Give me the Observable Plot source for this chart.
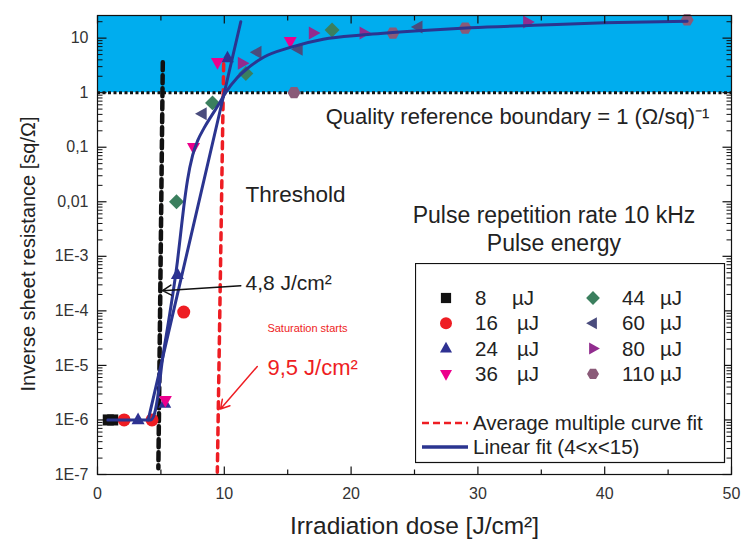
<!DOCTYPE html>
<html><head><meta charset="utf-8">
<script src="https://cdn.jsdelivr.net/npm/d3@7"></script>
<script src="https://cdn.jsdelivr.net/npm/@observablehq/plot@0.6"></script>
<style>
body{margin:0;background:#fff;}
#wrap{position:relative;width:742px;height:543px;font-family:"Liberation Sans",Arial,Helvetica,sans-serif;}
#legend{position:absolute;left:415px;top:263px;}
</style></head><body><div id="wrap"></div>
<script>
// ---------- data ----------
const xDomain = [0, 50];
const yDomain = [1e-7, 26];
const boundary = 1;

const e8x = [0.85, 1.2],               e8y = [1e-6, 1e-6];
const e16x = [2.1, 4.3, 6.8],           e16y = [1e-6, 1e-6, 9.5e-5];
const e24x = [3.2, 5.3, 6.3, 10.25],    e24y = [1e-6, 2.0e-6, 4.6e-4, 4.3];
const e36x = [5.35, 7.57, 9.46, 15.2],  e36y = [2.3e-6, 0.1, 3.6, 8.8];
const e44x = [6.23, 9.07, 11.7, 18.5],  e44y = [0.01, 0.65, 2.25, 14.1];
const e60x = [8.28, 12.6, 15.85, 25.3], e60y = [0.41, 5.5, 6.25, 16];
const e80x = [11.4, 17.0, 21.0, 33.9],  e80y = [3.45, 12.4, 12.4, 19.8];
const e110x = [15.5, 23.3, 29.0, 46.5], e110y = [1.0, 12.4, 15.3, 21.6];

// fitted curve (log10 of y)
const fitX = [0.8, 4.2, 4.5, 4.8, 5.1, 5.6, 6.0, 6.3, 6.55, 6.8, 7.1, 7.5, 7.9, 8.4, 9.0, 9.6, 10.1, 11.0, 11.8, 13.1, 15.2, 17.8, 21, 25, 29.4, 35, 40, 46.5];
const fitLog = [-6, -6, -5.88, -5.5, -4.93, -4.2, -3.6, -3.1, -2.6, -2.1, -1.6, -1.15, -0.88, -0.65, -0.42, -0.2, 0.0, 0.27, 0.44, 0.65, 0.83, 0.98, 1.06, 1.13, 1.19, 1.24, 1.28, 1.31];
// linear fit (4<x<15)
const linX = [4.0, 11.3], linY = [1e-6, 20];
// threshold lines
const thrBlackX = [5.15, 4.8], thrBlackY = [3.6, 1.3e-7];
const thrRedX = [9.95, 9.45], thrRedY = [3.4, 1.1e-7];

// axis ticks
const xMajor = [0, 10, 20, 30, 40, 50];
const xMinor = [5, 15, 25, 35, 45];
const yMajor = [1e-7, 1e-6, 1e-5, 1e-4, 1e-3, 0.01, 0.1, 1, 10];
const yLabels = ["1E-7", "1E-6", "1E-5", "1E-4", "1E-3", "0,01", "0,1", "1", "10"];
const yMinor = [];
for (let e = -7; e <= 1; e++) for (let k = 2; k <= 9; k++) { const v = k * Math.pow(10, e); if (v < yDomain[1]) yMinor.push(v); }

const legendItems = [
  {n: "8", key: "sq", color: "#111111"},
  {n: "16", key: "ci", color: "#EE1D23"},
  {n: "24", key: "tu", color: "#2E3192"},
  {n: "36", key: "td", color: "#EC008C"},
  {n: "44", key: "di", color: "#3B7F5E"},
  {n: "60", key: "tl", color: "#4A4C7D"},
  {n: "80", key: "tr", color: "#912C8E"},
  {n: "110", key: "hx", color: "#8A5A78"}
];

// ---------- symbols ----------
function poly(pts) {
  return {draw(ctx, size) {
    const r = Math.sqrt(size / Math.PI);
    pts.forEach(([a, b], i) => i ? ctx.lineTo(a * r, b * r) : ctx.moveTo(a * r, b * r));
    ctx.closePath();
  }};
}
const SYM = {
  sq: poly([[-0.85, -0.85], [0.85, -0.85], [0.85, 0.85], [-0.85, 0.85]]),
  ci: d3.symbolCircle,
  tu: poly([[0, -1.15], [1.0, 0.65], [-1.0, 0.65]]),
  td: poly([[0, 1.15], [1.0, -0.65], [-1.0, -0.65]]),
  tl: poly([[-1.15, 0], [0.65, -1.0], [0.65, 1.0]]),
  tr: poly([[1.15, 0], [-0.65, -1.0], [-0.65, 1.0]]),
  di: poly([[0, -1.15], [1.15, 0], [0, 1.15], [-1.15, 0]]),
  hx: poly(d3.range(6).map(i => [Math.cos(Math.PI / 3 * i), Math.sin(Math.PI / 3 * i)]))
};
const tick = (dx, dy) => ({draw(ctx) { ctx.moveTo(0, 0); ctx.lineTo(dx, dy); }});

const pts = (xs, ys) => xs.map((x, i) => ({x, y: ys[i]}));
const series = [[e8x, e8y], [e16x, e16y], [e24x, e24y], [e36x, e36y], [e44x, e44y], [e60x, e60y], [e80x, e80y], [e110x, e110y]];

const navy = "#2B3590";
const redC = "#EE1D23";
const font = "Liberation Sans, Arial, Helvetica, sans-serif";

const fitData = fitX.map((x, i) => ({x, y: Math.pow(10, fitLog[i])}));

const marks = [
  Plot.rect([{x1: xDomain[0], x2: xDomain[1], y1: boundary, y2: yDomain[1]}], {x1: "x1", x2: "x2", y1: "y1", y2: "y2", fill: "#00ADEE"}),
  Plot.ruleY([boundary], {stroke: "#111", strokeWidth: 3, strokeDasharray: "3,2.5"}),
  Plot.line(pts(thrBlackX, thrBlackY), {x: "x", y: "y", stroke: "#111", strokeWidth: 4.5, strokeDasharray: "8,5"}),
  Plot.line(pts(thrRedX, thrRedY), {x: "x", y: "y", stroke: redC, strokeWidth: 3.5, strokeDasharray: "7,6"}),
  ...series.map(([xs, ys], i) => Plot.dot(pts(xs, ys), {x: "x", y: "y", r: 6.5, symbol: SYM[legendItems[i].key], fill: legendItems[i].color, stroke: "none"})),
  Plot.line(fitData, {x: "x", y: "y", stroke: navy, strokeWidth: 3, curve: "monotone-x"}),
  Plot.line(pts(linX, linY), {x: "x", y: "y", stroke: navy, strokeWidth: 3}),
  Plot.arrow([{x1: 11.3, y1: Math.pow(10, -3.54), x2: 5.13, y2: Math.pow(10, -3.63)}], {x1: "x1", y1: "y1", x2: "x2", y2: "y2", stroke: "#111", strokeWidth: 1.5, headLength: 10}),
  Plot.arrow([{x1: 12.6, y1: Math.pow(10, -5.02), x2: 9.7, y2: Math.pow(10, -5.8)}], {x1: "x1", y1: "y1", x2: "x2", y2: "y2", stroke: redC, strokeWidth: 1.5, headLength: 10}),
  Plot.text(["Threshold"], {x: 11.67, y: Math.pow(10, -1.87), textAnchor: "start", fontSize: 22.5, fill: "#222"}),
  Plot.text(["Quality reference boundary = 1 (Ω/sq)⁻¹"], {x: 18.0, y: Math.pow(10, -0.44), textAnchor: "start", fontSize: 22, fill: "#222"}),
  Plot.text(["Pulse repetition rate 10 kHz"], {x: 36.0, y: Math.pow(10, -2.25), fontSize: 23, fill: "#222"}),
  Plot.text(["Pulse energy"], {x: 36.0, y: Math.pow(10, -2.77), fontSize: 23, fill: "#222"}),
  Plot.text(["4,8 J/cm²"], {x: 11.67, y: Math.pow(10, -3.5), textAnchor: "start", fontSize: 21, fill: "#222"}),
  Plot.text(["Saturation starts"], {x: 13.4, y: Math.pow(10, -4.32), textAnchor: "start", fontSize: 11, fill: redC}),
  Plot.text(["9,5 J/cm²"], {x: 13.4, y: Math.pow(10, -5.05), textAnchor: "start", fontSize: 22, fill: redC}),
  Plot.frame({stroke: "#111", strokeWidth: 1.2}),
  // ticks (inward)
  Plot.dot(xMajor, {x: d => d, y: () => yDomain[0], symbol: tick(0, -8), stroke: "#111", fill: "none", strokeWidth: 1.2}),
  Plot.dot(xMinor, {x: d => d, y: () => yDomain[0], symbol: tick(0, -5), stroke: "#111", fill: "none", strokeWidth: 1.2}),
  Plot.dot(xMajor, {x: d => d, y: () => yDomain[1], symbol: tick(0, 8), stroke: "#111", fill: "none", strokeWidth: 1.2}),
  Plot.dot(xMinor, {x: d => d, y: () => yDomain[1], symbol: tick(0, 5), stroke: "#111", fill: "none", strokeWidth: 1.2}),
  Plot.dot(yMajor, {y: d => d, x: () => xDomain[0], symbol: tick(9, 0), stroke: "#111", fill: "none", strokeWidth: 1.2}),
  Plot.dot(yMinor, {y: d => d, x: () => xDomain[0], symbol: tick(5, 0), stroke: "#111", fill: "none", strokeWidth: 1}),
  Plot.dot(yMajor, {y: d => d, x: () => xDomain[1], symbol: tick(-9, 0), stroke: "#111", fill: "none", strokeWidth: 1.2}),
  Plot.dot(yMinor, {y: d => d, x: () => xDomain[1], symbol: tick(-5, 0), stroke: "#111", fill: "none", strokeWidth: 1}),
  // tick labels
  Plot.text(xMajor, {x: d => d, y: () => yDomain[0], text: d => String(d), dy: 19, fontSize: 16, fill: "#333"}),
  Plot.text(yMajor, {y: d => d, x: () => xDomain[0], text: (d, i) => yLabels[i], textAnchor: "end", dx: -9, fontSize: 16, fill: "#333"}),
  // axis titles
  Plot.text(["Irradiation dose [J/cm²]"], {x: () => (xDomain[0] + xDomain[1]) / 2, y: () => yDomain[0], dy: 52, fontSize: 24.5, fill: "#222"}),
  Plot.text(["Inverse sheet resistance [sq/Ω]"], {x: () => xDomain[0], y: () => Math.sqrt(yDomain[0] * yDomain[1]), dx: -69, dy: 9, rotate: -90, fontSize: 20, fill: "#222"})
];

const chart = Plot.plot({
  width: 742, height: 543,
  marginLeft: 97, marginRight: 11, marginTop: 15, marginBottom: 69,
  style: {fontFamily: font, background: "white", overflow: "visible"},
  x: {domain: xDomain, axis: null},
  y: {type: "log", domain: yDomain, axis: null},
  marks
});
document.getElementById("wrap").appendChild(chart);

// ---------- legend ----------
const lg = d3.select("#wrap").append("svg").attr("id", "legend").attr("width", 311).attr("height", 201)
  .style("font-family", font);
lg.append("rect").attr("x", 0.5).attr("y", 0.5).attr("width", 309).attr("height", 199).attr("fill", "white").attr("stroke", "#111").attr("stroke-width", 1.2);
legendItems.forEach((d, i) => {
  const col = Math.floor(i / 4), row = i % 4;
  const mx = col ? 178 : 31, y = 35 + row * 25.3;
  lg.append("path").attr("transform", `translate(${mx},${y})`).attr("d", d3.symbol(SYM[d.key], Math.PI * 6 * 6)()).attr("fill", d.color);
  lg.append("text").attr("x", col ? 207 : 60).attr("y", y).attr("dy", "0.35em").attr("font-size", 20.5).attr("fill", "#222").text(d.n);
  lg.append("text").attr("x", col ? 245 : (d.n.length > 1 ? 102 : 97)).attr("y", y).attr("dy", "0.35em").attr("font-size", 20.5).attr("fill", "#222").text("µJ");
});
lg.append("line").attr("x1", 7).attr("x2", 53).attr("y1", 160).attr("y2", 160).attr("stroke", redC).attr("stroke-width", 2.5).attr("stroke-dasharray", "7,4");
lg.append("text").attr("x", 58).attr("y", 160).attr("dy", "0.35em").attr("font-size", 20.5).attr("fill", "#222").text("Average multiple curve fit");
lg.append("line").attr("x1", 7).attr("x2", 53).attr("y1", 184).attr("y2", 184).attr("stroke", navy).attr("stroke-width", 3.5);
lg.append("text").attr("x", 58).attr("y", 184).attr("dy", "0.35em").attr("font-size", 20.5).attr("fill", "#222").text("Linear fit (4<x<15)");
</script></body></html>
